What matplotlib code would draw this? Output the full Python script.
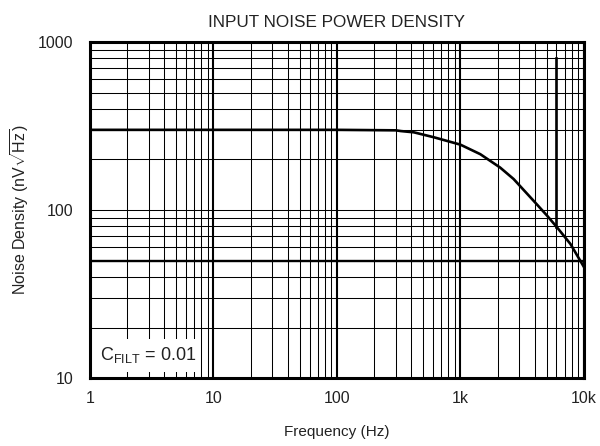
import matplotlib
matplotlib.use("Agg")
import matplotlib.pyplot as plt
from matplotlib.patches import Rectangle
from matplotlib.ticker import FixedLocator, NullFormatter

# === Data ===
freq = [1, 10, 100, 300, 330, 420, 610, 1000, 1450, 2100, 2700, 3900, 5050, 6080, 7800, 10000]
noise = [300, 300, 300, 298, 295, 290, 271, 245, 215, 179, 153, 114, 92.5, 78.8, 62.8, 46]

# stray vertical marker near 6 kHz
marker_f = [6000, 6000]
marker_v = [800, 79]

x_ticks = [1, 10, 100, 1000, 10000]
x_labels = ["1", "10", "100", "1k", "10k"]
y_ticks = [10, 100, 1000]
y_labels = ["10", "100", "1000"]

plt.rcParams["font.family"] = ["Liberation Sans", "DejaVu Sans"]
plt.rcParams["mathtext.fontset"] = "custom"
plt.rcParams["mathtext.rm"] = "Liberation Sans"
plt.rcParams["mathtext.it"] = "Liberation Sans:italic"
plt.rcParams["mathtext.bf"] = "Liberation Sans:bold"

fig = plt.figure(figsize=(6, 4.46), dpi=100)
ax = fig.add_axes([0.15, 0.152, 0.823, 0.754])

ax.set_xscale("log")
ax.set_yscale("log")
ax.set_xlim(1, 10000)
ax.set_ylim(10, 1000)

# === Ticks and grid ===
ax.xaxis.set_major_locator(FixedLocator(x_ticks))
ax.set_xticklabels(x_labels)
ax.yaxis.set_major_locator(FixedLocator(y_ticks))
ax.set_yticklabels(y_labels)
minor_x = [m * 10 ** d for d in range(4) for m in range(2, 10)]
minor_y = [m * 10 ** d for d in range(1, 3) for m in range(2, 10)]
ax.xaxis.set_minor_locator(FixedLocator(minor_x))
ax.yaxis.set_minor_locator(FixedLocator(minor_y))
ax.xaxis.set_minor_formatter(NullFormatter())
ax.yaxis.set_minor_formatter(NullFormatter())
ax.tick_params(which="both", length=0, labelsize=11.5, colors="#222222")
ax.tick_params(axis="x", pad=9)
ax.tick_params(axis="y", pad=12)

ax.set_axisbelow(True)
ax.grid(which="minor", color="black", lw=0.75)
ax.grid(which="major", axis="y", color="black", lw=0.75)
ax.grid(which="major", axis="x", color="black", lw=1.5)
ax.axhline(50, color="black", lw=1.7, zorder=0.6)

for s in ax.spines.values():
    s.set_linewidth(2.2)

# === Curve ===
ax.plot(freq, noise, color="black", lw=1.9, zorder=3)
ax.plot(marker_f, marker_v, color="black", lw=1.9, zorder=3)

# === Label box ===
ax.add_patch(Rectangle((0.0, 0.018), 0.222, 0.098, transform=ax.transAxes,
                       facecolor="white", edgecolor="none", zorder=1))
ax.text(0.02, 0.068, r"C$_{\mathrm{FILT}}$ = 0.01", transform=ax.transAxes,
        fontsize=13, va="center", ha="left", color="#222222", zorder=4)

# === Titles ===
ax.set_title("INPUT NOISE POWER DENSITY", fontsize=12.3, pad=11, color="#222222")
ax.set_xlabel("Frequency (Hz)", fontsize=11, labelpad=14, color="#222222")
ax.set_ylabel(r"Noise Density (nV$\sqrt{\mathrm{Hz}}$)", fontsize=11.5,
              labelpad=5, color="#222222")

fig.savefig("out.png", dpi=100)
